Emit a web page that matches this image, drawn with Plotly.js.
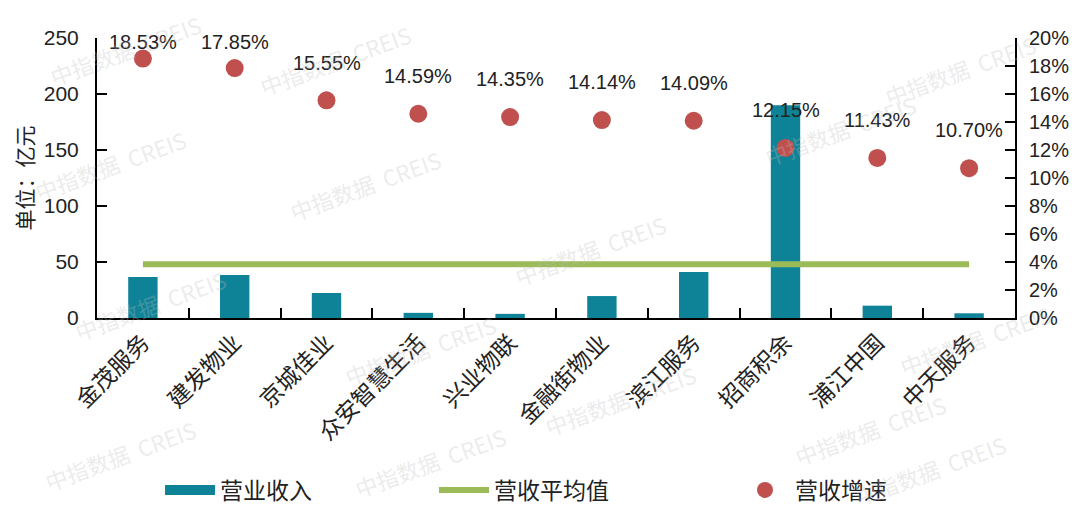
<!DOCTYPE html>
<html>
<head>
<meta charset="utf-8">
<script src="https://cdn.plot.ly/plotly-3.0.1.min.js"></script>
<style>html,body{margin:0;padding:0;background:#fff;}#chart{width:1080px;height:518px;}</style>
</head>
<body>
<div id="chart"></div>
<script>
const categories = ["金茂服务","建发物业","京城佳业","众安智慧生活","兴业物联","金融街物业","滨江服务","招商积余","浦江中国","中天服务"];
const revenue = [36.5, 38.4, 22.3, 4.6, 3.7, 19.6, 41.0, 190.0, 11.0, 4.2];
const avgRevenue = 48.0;
const growth = [18.53, 17.85, 15.55, 14.59, 14.35, 14.14, 14.09, 12.15, 11.43, 10.70];
const leftTicks = [0, 50, 100, 150, 200, 250];
const rightTicks = [0, 2, 4, 6, 8, 10, 12, 14, 16, 18, 20];

const numFont = "Liberation Sans, Arial, Noto Sans CJK SC, sans-serif";
const cjkFont = "Noto Sans CJK SC, Liberation Sans, sans-serif";
const barColor = '#0E8397';

const traces = [
  {type:'bar', name:'营业收入', x:categories, y:revenue, marker:{color:barColor}, yaxis:'y', showlegend:false},
  // legend swatch for the bars (wide rectangle like the original)
  {type:'scatter', mode:'lines', name:'营业收入', x:[null], y:[null], line:{color:barColor, width:17}, yaxis:'y', legend:'legend'},
  {type:'scatter', mode:'lines', name:'营收平均值', x:categories, y:categories.map(()=>avgRevenue), line:{color:'#9BBB59', width:6}, yaxis:'y', legend:'legend2'},
  {type:'scatter', mode:'markers', name:'营收增速', x:categories, y:growth, marker:{color:'#C0504D', size:18}, yaxis:'y2', legend:'legend3'}
];

const annotations = growth.map((g,i)=>({
  x: categories[i], y: Math.min(g + 2.7, 19.75), xref:'x', yref:'y2',
  text: g.toFixed(2) + '%', showarrow:false, yanchor:'middle',
  font:{family:numFont, size:20, color:'#222'}
}));

// watermarks (pixel positions converted to paper coords)
const wm = [[125,50],[335,60],[110,165],[365,185],[590,250],[840,130],[960,70],[150,305],[420,350],[620,400],[870,430],[120,455],[975,340],[430,462],[930,470]];
wm.forEach(p=>annotations.push({x:(p[0]-97)/918, y:(318-p[1])/280, xref:'paper', yref:'paper', text:'中指数据  CREIS', showarrow:false,
  textangle:-20, font:{family:cjkFont, size:22, color:'rgba(190,190,190,0.3)'}, xanchor:'center', yanchor:'middle'}));

const legendFont = {family:cjkFont, size:23, color:'#222'};
const legY = (318-490)/280;
const mkLegend = (px)=>({orientation:'h', x:(px-97)/918, y:legY, xanchor:'left', yanchor:'middle', font:legendFont, itemwidth:50, bgcolor:'rgba(0,0,0,0)'});

const layout = {
  width:1080, height:518,
  margin:{l:97, r:65, t:38, b:200, autoexpand:false},
  paper_bgcolor:'#fff', plot_bgcolor:'#fff',
  showlegend:true,
  legend: mkLegend(160),
  legend2: mkLegend(434),
  legend3: mkLegend(735),
  bargap:0.68,
  xaxis:{type:'category', range:[-0.5, 9.5], automargin:false, showline:true, linecolor:'#000', linewidth:2, ticks:'inside', tickson:'boundaries', ticklen:10, tickwidth:2, tickcolor:'#000',
    tickangle:-45, tickfont:{family:cjkFont, size:23, color:'#222'}, showgrid:false, zeroline:false},
  yaxis:{range:[0,250], automargin:false, tickvals:leftTicks, showline:true, linecolor:'#000', linewidth:2, ticks:'inside', ticklen:10, tickwidth:2, tickcolor:'#000',
    ticklabelstandoff:12, tickfont:{family:numFont, size:21, color:'#222'}, showgrid:false, zeroline:false,
    title:{text:'单位：亿元', font:{family:cjkFont, size:21, color:'#222'}, standoff:4}},
  yaxis2:{range:[0,20], automargin:false, overlaying:'y', side:'right', tickvals:rightTicks, ticktext:rightTicks.map(v=>v+'%'), showline:true, linecolor:'#000', linewidth:2,
    ticks:'inside', ticklen:10, tickwidth:2, tickcolor:'#000', ticklabelstandoff:8, tickfont:{family:numFont, size:20, color:'#222'}, showgrid:false, zeroline:false},
  annotations: annotations
};

Plotly.newPlot('chart', traces, layout, {displayModeBar:false, staticPlot:true});
</script>
</body>
</html>
